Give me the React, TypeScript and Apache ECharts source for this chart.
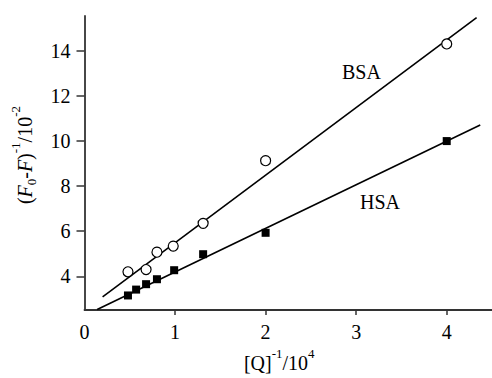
import React, { useEffect, useRef } from "react";
import * as echarts from "echarts";

const bsaX = [0.48, 0.68, 0.8, 0.98, 1.31, 2.0, 4.0];
const bsaY = [4.2, 4.3, 5.07, 5.34, 6.35, 9.13, 14.31];
const hsaX = [0.48, 0.57, 0.68, 0.8, 0.99, 1.31, 2.0, 4.0];
const hsaY = [3.15, 3.41, 3.65, 3.87, 4.27, 4.98, 5.93, 10.0];
const bsaFit = [[0.2, 3.09], [4.33, 15.48]];
const hsaFit = [[0.14, 2.53], [4.37, 10.71]];
const xTicks = [0, 1, 2, 3, 4];
const yTicks = [4, 6, 8, 10, 12, 14];
const seriesLabels = ["BSA", "HSA"];

const FONT = "'Liberation Serif', 'Times New Roman', serif";

export default function App() {
  const ref = useRef<HTMLDivElement>(null);
  useEffect(() => {
    if (!ref.current) return;
    const chart = echarts.init(ref.current, null, { renderer: "svg" });
    const axisLine = { show: true, lineStyle: { color: "#333", width: 1.8 } };
    chart.setOption({
      animation: false,
      backgroundColor: "#fff",
      grid: { left: 84.5, top: 16, width: 407.5, height: 300.5, containLabel: false },
      xAxis: {
        type: "value",
        min: 0,
        max: 4.5,
        splitLine: { show: false },
        axisLine,
        axisTick: { show: true, length: 5, customValues: xTicks.slice(1), lineStyle: { color: "#333", width: 1.5 } },
        axisLabel: { customValues: xTicks, margin: 12, fontFamily: FONT, fontSize: 20, color: "#000" },
        name: "{n|[Q]}{sup|-1}{n|/10}{sup|4}",
        nameLocation: "middle",
        nameGap: 27,
        nameTextStyle: {
          padding: [0, 18, 0, 0],
          rich: {
            n: { fontFamily: FONT, fontSize: 20, color: "#000", lineHeight: 26, verticalAlign: "bottom" },
            sup: { fontFamily: FONT, fontSize: 13, color: "#000", lineHeight: 26, verticalAlign: "top" },
          },
        },
      },
      yAxis: {
        type: "value",
        min: 2.5,
        max: 15.55,
        splitLine: { show: false },
        axisLine,
        axisTick: { show: true, length: 8, customValues: yTicks, lineStyle: { color: "#333", width: 1.5 } },
        axisLabel: { customValues: yTicks, margin: 14, fontFamily: FONT, fontSize: 20, color: "#000" },
        name: "{n|(}{i|F}{sub|0}{n|-}{i|F}{n|)}{sup|-1}{n|/10}{sup|-2}",
        nameLocation: "middle",
        nameRotate: 90,
        nameGap: 50,
        nameTextStyle: {
          padding: [0, 0, 0, 16],
          rich: {
            n: { fontFamily: FONT, fontSize: 20, color: "#000", lineHeight: 26, verticalAlign: "bottom" },
            i: { fontFamily: FONT, fontStyle: "italic", fontSize: 20, color: "#000", lineHeight: 26, verticalAlign: "bottom" },
            sup: { fontFamily: FONT, fontSize: 13, color: "#000", lineHeight: 26, verticalAlign: "top" },
            sub: { fontFamily: FONT, fontSize: 13, color: "#000", lineHeight: 26, verticalAlign: "bottom", padding: [0, 0, -3, 0] },
          },
        },
      },
      series: [
        {
          type: "line",
          data: bsaFit,
          showSymbol: false,
          symbol: "none",
          lineStyle: { color: "#000", width: 1.6 },
          clip: false,
          silent: true,
        },
        {
          type: "line",
          data: hsaFit,
          showSymbol: false,
          symbol: "none",
          lineStyle: { color: "#000", width: 1.6 },
          clip: false,
          silent: true,
        },
        {
          type: "scatter",
          data: bsaX.map((x, i) => [x, bsaY[i]]),
          symbol: "circle",
          symbolSize: 10,
          itemStyle: { color: "#fff", borderColor: "#000", borderWidth: 1.2, opacity: 1 },
          z: 5,
        },
        {
          type: "scatter",
          data: hsaX.map((x, i) => [x, hsaY[i]]),
          symbol: "rect",
          symbolSize: 8,
          itemStyle: { color: "#000", opacity: 1 },
          z: 5,
        },
      ],
      graphic: [
        {
          type: "text",
          left: 342,
          top: 62,
          style: { text: seriesLabels[0], fontFamily: FONT, fontSize: 20, fill: "#000" },
        },
        {
          type: "text",
          left: 360,
          top: 192,
          style: { text: seriesLabels[1], fontFamily: FONT, fontSize: 20, fill: "#000" },
        },
      ],
    });
    return () => chart.dispose();
  }, []);
  return (
    <div
      ref={ref}
      style={{ position: "fixed", left: 0, top: 0, width: 492, height: 378, background: "#fff" }}
    />
  );
}
